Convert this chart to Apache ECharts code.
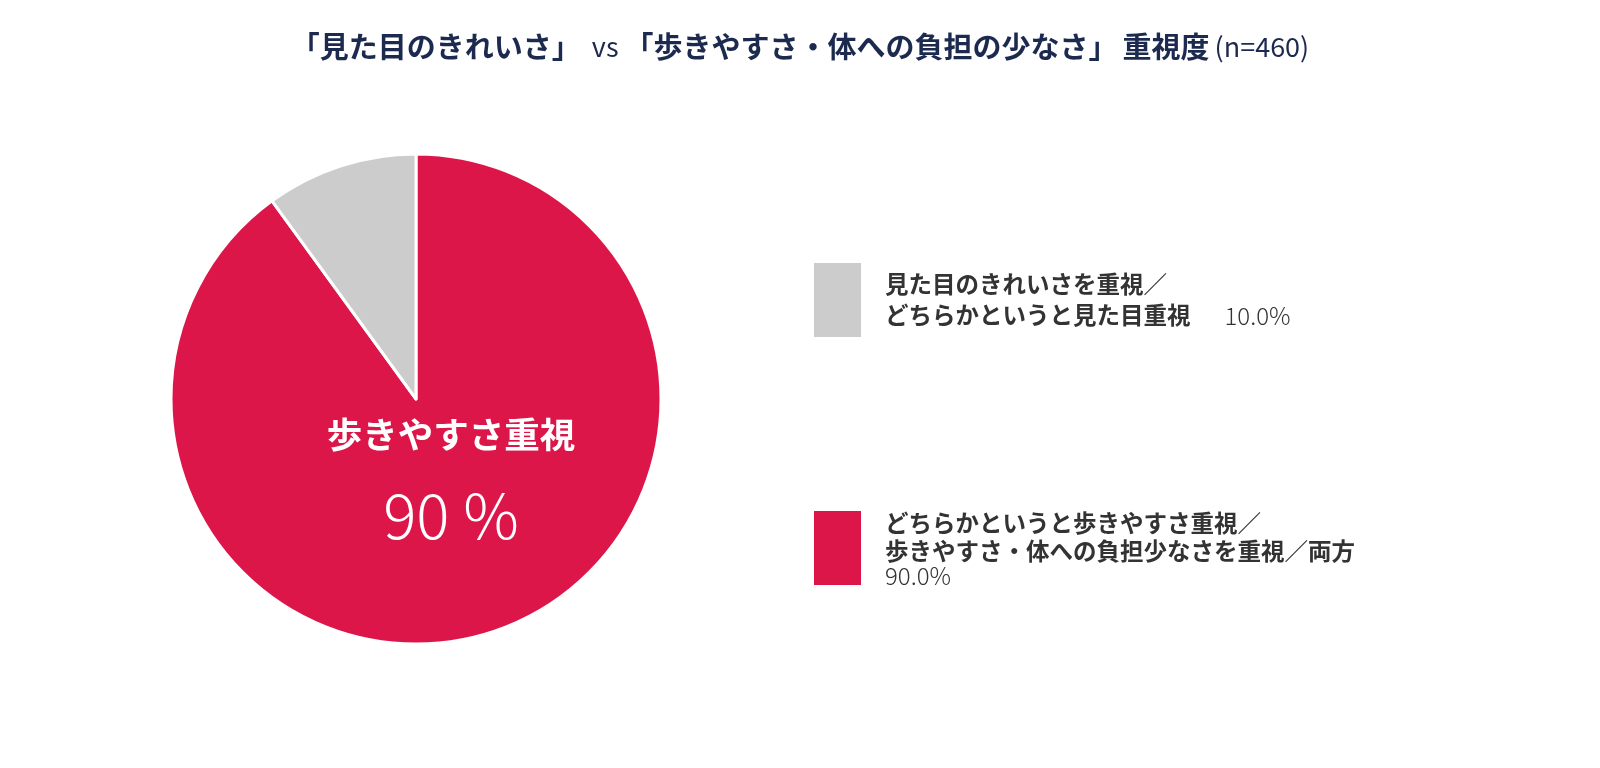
<!DOCTYPE html>
<html>
<head>
<meta charset="UTF-8">
<title>重視度</title>
<script src="https://cdn.jsdelivr.net/npm/echarts@6/dist/echarts.min.js"></script>
<style>
  html, body { margin: 0; padding: 0; background: #fff; }
  #main { width: 1600px; height: 768px; }
</style>
</head>
<body>
<div id="main"></div>
<script>
// スライス（時計回り、12時から）
var sliceNames = ['歩きやすさ重視', '見た目重視'];
var sliceValues = [90, 10];
var sliceColors = ['#dc1648', '#cccccc'];
// 凡例の文言（上から表示する順は見た目→歩きやすさ）
var legendLines = [
  ['どちらかというと歩きやすさ重視／', '歩きやすさ・体への負担少なさを重視／両方'],
  ['見た目のきれいさを重視／', 'どちらかというと見た目重視']
];
var sampleSize = 460;

var JP = '"Noto Sans CJK JP", "Noto Sans", sans-serif';
var total = sliceValues.reduce(function (a, b) { return a + b; }, 0);

var chart = echarts.init(document.getElementById('main'));

var pieData = sliceNames.map(function (n, i) {
  return {
    name: n,
    value: sliceValues[i],
    itemStyle: { color: sliceColors[i] },
    label: { show: i === 0 }
  };
});

chart.setOption({
  animation: false,
  title: {
    left: 'center',
    top: 27,
    text: '{b|「見た目のきれいさ」} {n| vs }{b|「歩きやすさ・体への負担の少なさ」} {b|重視度} {n|(n=' + sampleSize + ')}',
    textStyle: {
      rich: {
        b: { fontFamily: JP, fontSize: 29, fontWeight: 'bold', color: '#1b2a4e' },
        n: { fontFamily: JP, fontSize: 27, fontWeight: 'normal', color: '#1b2a4e' }
      }
    }
  },
  legend: {
    orient: 'vertical',
    left: 807,
    top: 256,
    icon: 'rect',
    itemWidth: 49,
    itemHeight: 76,
    itemGap: 170,
    selectedMode: false,
    data: [sliceNames[1], sliceNames[0]],
    formatter: function (name) {
      var i = sliceNames.indexOf(name);
      var pct = (sliceValues[i] / total * 100).toFixed(1) + '%';
      var lines = legendLines[i];
      if (i === 1) {
        return '{b|' + lines[0] + '}\n{b|' + lines[1] + '}{n|' + pct + '}';
      }
      return '{r|' + lines[0] + '}\n{r|' + lines[1] + '}\n{p|' + pct + '}';
    },
    textStyle: {
      padding: [0, 0, 0, 18],
      rich: {
        b: { fontFamily: JP, fontSize: 23.5, fontWeight: 'bold', color: '#333', lineHeight: 31 },
        r: { fontFamily: JP, fontSize: 23.5, fontWeight: 'bold', color: '#333', lineHeight: 28 },
        n: { fontFamily: JP, fontSize: 24, fontWeight: 300, color: '#333', lineHeight: 31, padding: [0, 0, 0, 34] },
        p: { fontFamily: JP, fontSize: 24, fontWeight: 300, color: '#333', lineHeight: 22 }
      }
    }
  },
  series: [{
    type: 'pie',
    center: [416, 399],
    radius: 245,
    startAngle: 90,
    clockwise: true,
    silent: true,
    itemStyle: { borderColor: '#fff', borderWidth: 3 },
    labelLine: { show: false },
    label: {
      position: 'center',
      offset: [35, 96],
      formatter: function (p) {
        return '{a|' + p.name + '}\n{v|' + p.value + ' %}';
      },
      rich: {
        a: { fontFamily: JP, fontSize: 35.5, fontWeight: 'bold', color: '#fff', lineHeight: 40 },
        v: { fontFamily: JP, fontSize: 62, fontWeight: 300, color: '#fff', lineHeight: 120 }
      }
    },
    data: pieData
  }]
});
</script>
</body>
</html>
